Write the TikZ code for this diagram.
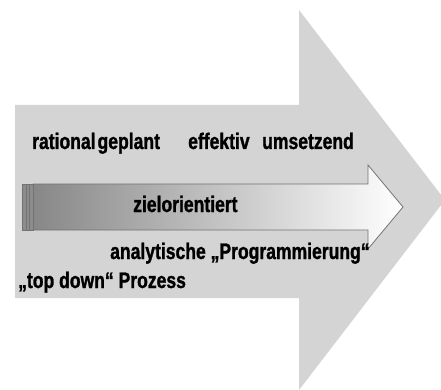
\documentclass[tikz,border=0pt]{standalone}
\usepackage{fontspec}
\newfontfamily\narrowbold{Liberation Sans}[UprightFont={* Bold}, FakeStretch=0.78, FakeBold=1.2]
\usepackage{tikz}

\begin{document}
\begin{tikzpicture}[x=1pt,y=-1pt]
	\tikzstyle{word} = [font=\narrowbold\fontsize{22.5}{26}\selectfont, inner sep=0pt, anchor=base west]
	\tikzstyle{bigarrow} = [fill=black!17]
	\tikzstyle{flow} = [draw=black!55, line width=0.8pt, left color=black!47, middle color=black!14, right color=white]
	\tikzstyle{stripe} = [draw=black!55, fill=black!45, line width=0.6pt]
	
	\useasboundingbox (0,0) rectangle (441,390);
	\clip (0,0) rectangle (441,390);
	
	% big background arrow
	\fill[bigarrow] (15,105) -- (299,105) -- (299,10) -- (445,200) -- (299,390) -- (299,298) -- (15,298) -- cycle;
	
	% shaded arrow in the middle
	\path[flow] (33,184) -- (368,184) -- (368,165) -- (403,207) -- (368,249) -- (368,230) -- (33,230) -- cycle;
	\draw[stripe] (22,184) rectangle (33,230);
	\draw[stripe] (26,184) -- (26,230);
	\draw[stripe] (29,184) -- (29,230);
	
	\node[word](rational) at (32,149) {rational\hspace{2pt}geplant};
	\node[word](effektiv) at (188,149) {effektiv};
	\node[word](umsetzend) at (262,149) {umsetzend};
	\node[word](ziel) at (133,212) {zielorientiert};
	\node[word](analytisch) at (110,259) {analytische „Programmierung“};
	\node[word](topdown) at (18,288) {„top down“ Prozess};
\end{tikzpicture}
\end{document}
